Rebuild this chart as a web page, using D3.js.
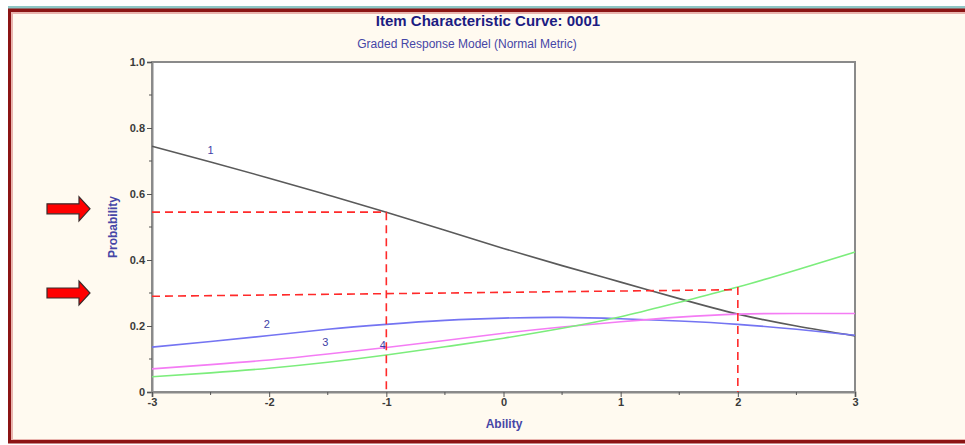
<head>
    <meta charset="utf-8">
    <script src="https://d3js.org/d3.v7.min.js"></script>
    <style>
        body { margin: 0; background: #fff; }
        svg { display: block; }
    </style>
</head>

<body>
    <div id="app"></div>
</body>

<script>
    // theta grid and category probabilities
    let theta = [-3, -2.5, -2, -1.5, -1, -0.5, 0, 0.5, 1, 1.5, 2, 2.5, 3];
    let cat1 = [0.745, 0.697, 0.648, 0.597, 0.545, 0.49, 0.435, 0.383, 0.333, 0.283, 0.236, 0.2, 0.17];
    let cat2 = [0.136, 0.153, 0.171, 0.19, 0.205, 0.217, 0.224, 0.226, 0.222, 0.215, 0.205, 0.19, 0.172];
    let cat3 = [0.07, 0.083, 0.097, 0.115, 0.135, 0.156, 0.178, 0.197, 0.213, 0.227, 0.236, 0.238, 0.238];
    let cat4 = [0.046, 0.058, 0.072, 0.09, 0.112, 0.137, 0.163, 0.193, 0.228, 0.272, 0.318, 0.37, 0.424];
    let xTicks = [-3, -2, -1, 0, 1, 2, 3];
    let yTicks = [0, 0.2, 0.4, 0.6, 0.8, 1.0];
    let curveLabels = [{ t: "1", x: -2.5, y: 0.72 }, { t: "2", x: -2.02, y: 0.195 }, { t: "3", x: -1.52, y: 0.138 }, { t: "4", x: -1.03, y: 0.13 }];
    // the two reading guides: [x0, y0, x1, y1]
    let guideH = [[-3, 0.545, -1, 0.545], [-3, 0.29, 2, 0.31]];
    let guideV = [[-1, 0.545, -1, 0], [2, 0.318, 2, 0]];
    let arrowsAt = [0.555, 0.3];

    let W = 965, H = 445;
    let svg = d3.select("#app").append("svg").attr("width", W).attr("height", H);

    // frame
    svg.append("rect").attr("x", 0).attr("y", 0).attr("width", W).attr("height", H).attr("fill", "#ffffff");
    svg.append("rect").attr("x", 8).attr("y", 6).attr("width", W - 8).attr("height", 3).attr("fill", "#8ec7c6");
    svg.append("rect").attr("x", 8).attr("y", 8.5).attr("width", W - 8).attr("height", 435).attr("fill", "#8c1414");
    svg.append("rect").attr("x", 11).attr("y", 12).attr("width", W - 11).attr("height", 428).attr("fill", "#e9b4ae");
    svg.append("rect").attr("x", 13).attr("y", 14).attr("width", W - 13).attr("height", 425).attr("fill", "#fffaf0");

    let x = d3.scaleLinear().domain([-3, 3]).range([152, 855]);
    let y = d3.scaleLinear().domain([0, 1]).range([392, 62]);

    svg.append("rect").attr("x", 152).attr("y", 62).attr("width", 703).attr("height", 330)
        .attr("fill", "#ffffff").attr("stroke", "#8a8a8a").attr("stroke-width", 2);

    // axes
    let yAxis = d3.axisLeft(y).tickValues(yTicks).tickSize(5).tickPadding(2)
        .tickFormat(d => d === 0 ? "0" : d3.format(".1f")(d));
    let gy = svg.append("g").attr("transform", "translate(152,0)").call(yAxis);
    let xAxis = d3.axisBottom(x).tickValues(xTicks).tickSize(5).tickPadding(1)
        .tickFormat(d => d < 0 ? "-" + Math.abs(d) : String(d));
    let gx = svg.append("g").attr("transform", "translate(0,392)").call(xAxis);
    [gx, gy].forEach(g => {
        g.select(".domain").attr("stroke", "#8a8a8a").attr("stroke-width", 2);
        g.selectAll(".tick line").attr("stroke", "#555");
        g.selectAll(".tick text").attr("fill", "#3a3a3a").style("font-family", "Liberation Sans, Arial, sans-serif")
            .style("font-size", "11px").style("font-weight", "bold");
    });
    // minor ticks
    svg.append("g").selectAll("line").data(d3.range(0.1, 1, 0.2)).enter().append("line")
        .attr("x1", 149).attr("x2", 152).attr("y1", d => y(d)).attr("y2", d => y(d)).attr("stroke", "#555");
    svg.append("g").selectAll("line").data(d3.range(-2.5, 3, 1)).enter().append("line")
        .attr("x1", d => x(d)).attr("x2", d => x(d)).attr("y1", 392).attr("y2", 395).attr("stroke", "#555");

    // curves
    let line = d3.line().x(d => x(d[0])).y(d => y(d[1])).curve(d3.curveNatural);
    let series = [
        { v: cat1, c: "#5a5a5a" },
        { v: cat2, c: "#7474f2" },
        { v: cat3, c: "#f47cf4" },
        { v: cat4, c: "#7ced7c" }
    ];
    series.forEach(s => {
        svg.append("path").datum(theta.map((t, i) => [t, s.v[i]]))
            .attr("d", line).attr("fill", "none").attr("stroke", s.c).attr("stroke-width", 1.6);
    });

    svg.append("g").selectAll("text").data(curveLabels).enter().append("text")
        .attr("x", d => x(d.x)).attr("y", d => y(d.y)).attr("text-anchor", "middle")
        .attr("fill", "#3e3ea6").style("font-family", "Liberation Sans, Arial, sans-serif").style("font-size", "11px")
        .text(d => d.t);

    // dashed guides
    svg.append("g").selectAll("line").data(guideH.concat(guideV)).enter().append("line")
        .attr("x1", d => x(d[0])).attr("y1", d => y(d[1])).attr("x2", d => x(d[2])).attr("y2", d => y(d[3]))
        .attr("stroke", "#ff2a2a").attr("stroke-width", 1.6).attr("stroke-dasharray", "8,5");

    // arrows
    svg.append("g").selectAll("path").data(arrowsAt).enter().append("path")
        .attr("transform", d => "translate(0," + y(d) + ")")
        .attr("d", "M47,-5 L79,-5 L79,-12 L90,0 L79,12 L79,5 L47,5 Z")
        .attr("fill", "#ff0000").attr("stroke", "#3a2a2a").attr("stroke-width", 1.2);

    // titles
    let font = "Liberation Sans, Arial, sans-serif";
    svg.append("text").attr("x", 488).attr("y", 26).attr("text-anchor", "middle")
        .attr("fill", "#1c1c82").style("font-family", font).style("font-size", "15px").style("font-weight", "bold")
        .text("Item Characteristic Curve: 0001");
    svg.append("text").attr("x", 467).attr("y", 48).attr("text-anchor", "middle")
        .attr("fill", "#4646a6").style("font-family", font).style("font-size", "12px")
        .text("Graded Response Model (Normal Metric)");
    svg.append("text").attr("transform", "translate(117,227) rotate(-90)").attr("text-anchor", "middle")
        .attr("fill", "#4646a6").style("font-family", font).style("font-size", "12px").style("font-weight", "bold")
        .text("Probability");
    svg.append("text").attr("x", 504).attr("y", 428).attr("text-anchor", "middle")
        .attr("fill", "#4646a6").style("font-family", font).style("font-size", "12px").style("font-weight", "bold")
        .text("Ability");
</script>
